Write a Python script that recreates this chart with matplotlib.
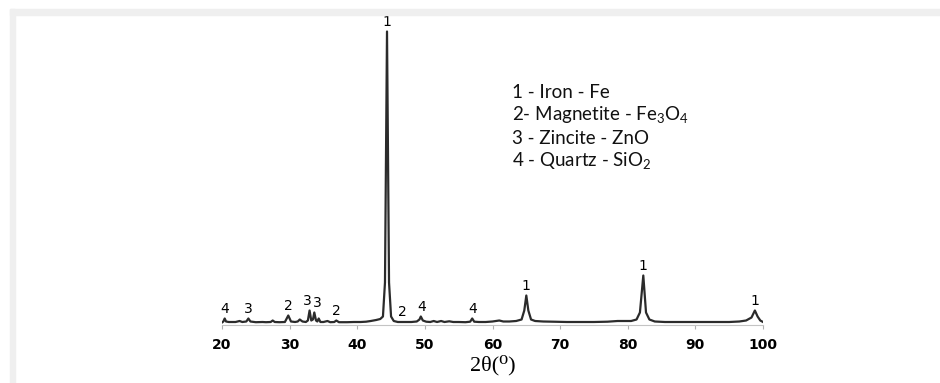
# XRD pattern with phase labels
import matplotlib.pyplot as plt
from matplotlib.patches import Rectangle

plt.rcParams['mathtext.fontset'] = 'custom'
plt.rcParams['mathtext.rm'] = 'Lato'

# points: 2theta (deg) and intensity (a.u.)
two_theta = [20.0, 20.2, 20.4, 20.6, 21.0, 22.0, 22.6, 23.0, 23.6, 23.9, 24.2,
             25.0, 26.0, 26.5, 27.2, 27.5, 27.8, 28.5, 29.3, 29.8, 30.2, 30.8,
             31.2, 31.5, 31.9, 32.4, 32.7, 32.95, 33.2, 33.45, 33.65, 33.9,
             34.1, 34.3, 34.55, 35.0, 35.6, 36.0, 36.6, 36.9, 37.3, 38.5, 39.5,
             40.5, 41.3, 42.0, 42.8, 43.4, 43.8, 44.1, 44.4, 44.7, 45.0, 45.4,
             46.0, 47.0, 48.0, 48.8, 49.2, 49.4, 49.7, 50.2, 50.8, 51.3, 51.8,
             52.4, 52.9, 53.6, 54.2, 55.0, 56.0, 56.7, 57.0, 57.3, 58.0, 59.0,
             60.0, 61.0, 61.6, 62.5, 63.5, 64.3, 64.7, 65.0, 65.3, 65.7, 66.3,
             67.5, 69.0, 71.0, 73.0, 75.0, 77.0, 78.5, 79.5, 80.5, 81.3, 81.8,
             82.3, 82.7, 83.2, 84.0, 85.5, 87.0, 89.0, 91.0, 93.0, 95.0, 96.5,
             97.5, 98.3, 98.8, 99.2, 99.6, 100.0]
intensity = [0, 1, 4, 1, 0.5, 0.5, 1.5, 0.5, 1, 4, 1,
             0.3, 0.5, 0.3, 0.5, 2, 0.5, 0.3, 0.5, 7, 1, 0.5,
             1, 3, 1, 0.5, 2, 12, 2, 3, 10, 2,
             1, 4, 0.5, 0.5, 1.5, 0.3, 0.5, 2, 0.3, 0.3, 0.5,
             0.5, 0.8, 1.5, 2.5, 3.5, 6, 40, 291, 40, 6, 1.5,
             0.5, 0.5, 0.5, 1, 3, 6, 2, 0.8, 0.5, 1.5, 0.5,
             1.5, 0.5, 1.2, 0.5, 0.5, 0.3, 0.8, 4, 0.8, 0.5, 0.5,
             1, 2, 1, 1, 1.5, 3, 12, 27, 12, 3, 1.5,
             1, 0.8, 0.5, 0.5, 0.5, 0.8, 1.5, 1.5, 1.5, 3, 10,
             47, 10, 3, 1, 0.5, 0.5, 0.5, 0.5, 0.5, 0.5, 1,
             2, 5, 12, 6, 2, 0.5]

# peak labels: position, height of the mark, phase number
label_x = [20.4, 23.9, 29.8, 32.6, 34.1, 36.9, 44.35, 46.7, 49.5, 57.0, 65.0, 82.3, 98.8]
label_h = [4, 4, 7, 12, 10, 2, 291, 0.5, 6, 4, 27, 47, 12]
label_txt = ['4', '3', '2', '3', '3', '2', '1', '2', '4', '4', '1', '1', '1']

ticks = [20, 30, 40, 50, 60, 70, 80, 90, 100]

phases = ['1 - Iron - Fe',
          r'2- Magnetite - Fe$_\mathrm{3}$O$_\mathrm{4}$',
          '3 - Zincite - ZnO',
          r'4 - Quartz - SiO$_\mathrm{2}$']

fig = plt.figure(figsize=(9.4, 3.83), dpi=100)

# grey frame strips at top and left
fig.patches.append(Rectangle((10 / 940, 0), 5 / 940, 374 / 383,
                             transform=fig.transFigure, color='#efefef', zorder=0))
fig.patches.append(Rectangle((10 / 940, 368 / 383), 930 / 940, 6 / 383,
                             transform=fig.transFigure, color='#efefef', zorder=0))

ax = fig.add_axes([222 / 940, 58.5 / 383, 541 / 940, 304.5 / 383])
ax.plot(two_theta, intensity, color='#2b2b2b', lw=1.6)
ax.set_xlim(20, 100)
ax.set_ylim(-2, 302.5)

for x, h, t in zip(label_x, label_h, label_txt):
    ax.annotate(t, xy=(x, h), xytext=(0, 2), textcoords='offset points',
                ha='center', va='bottom', fontsize=10, color='black',
                annotation_clip=False)

for s in ['top', 'right', 'left']:
    ax.spines[s].set_visible(False)
ax.spines['bottom'].set_color('#c4c4c4')
ax.set_yticks([])
ax.set_xticks(ticks)
ax.set_xticklabels([str(t) for t in ticks], fontsize=10, fontweight='bold')
ax.tick_params(axis='x', length=3, color='#b0b0b0', pad=7)

fig.text(493 / 940, (383 - 365) / 383, '2θ(⁰)', ha='center', va='center',
         fontsize=16, family=['Liberation Serif', 'DejaVu Serif'])

for i, p in enumerate(phases):
    fig.text(512 / 940, (383 - 92 - 23 * i) / 383, p, ha='left', va='center',
             fontsize=13.5, family=['Lato', 'DejaVu Sans'], color='#111111')

fig.savefig('out.png', dpi=100, facecolor='white')
